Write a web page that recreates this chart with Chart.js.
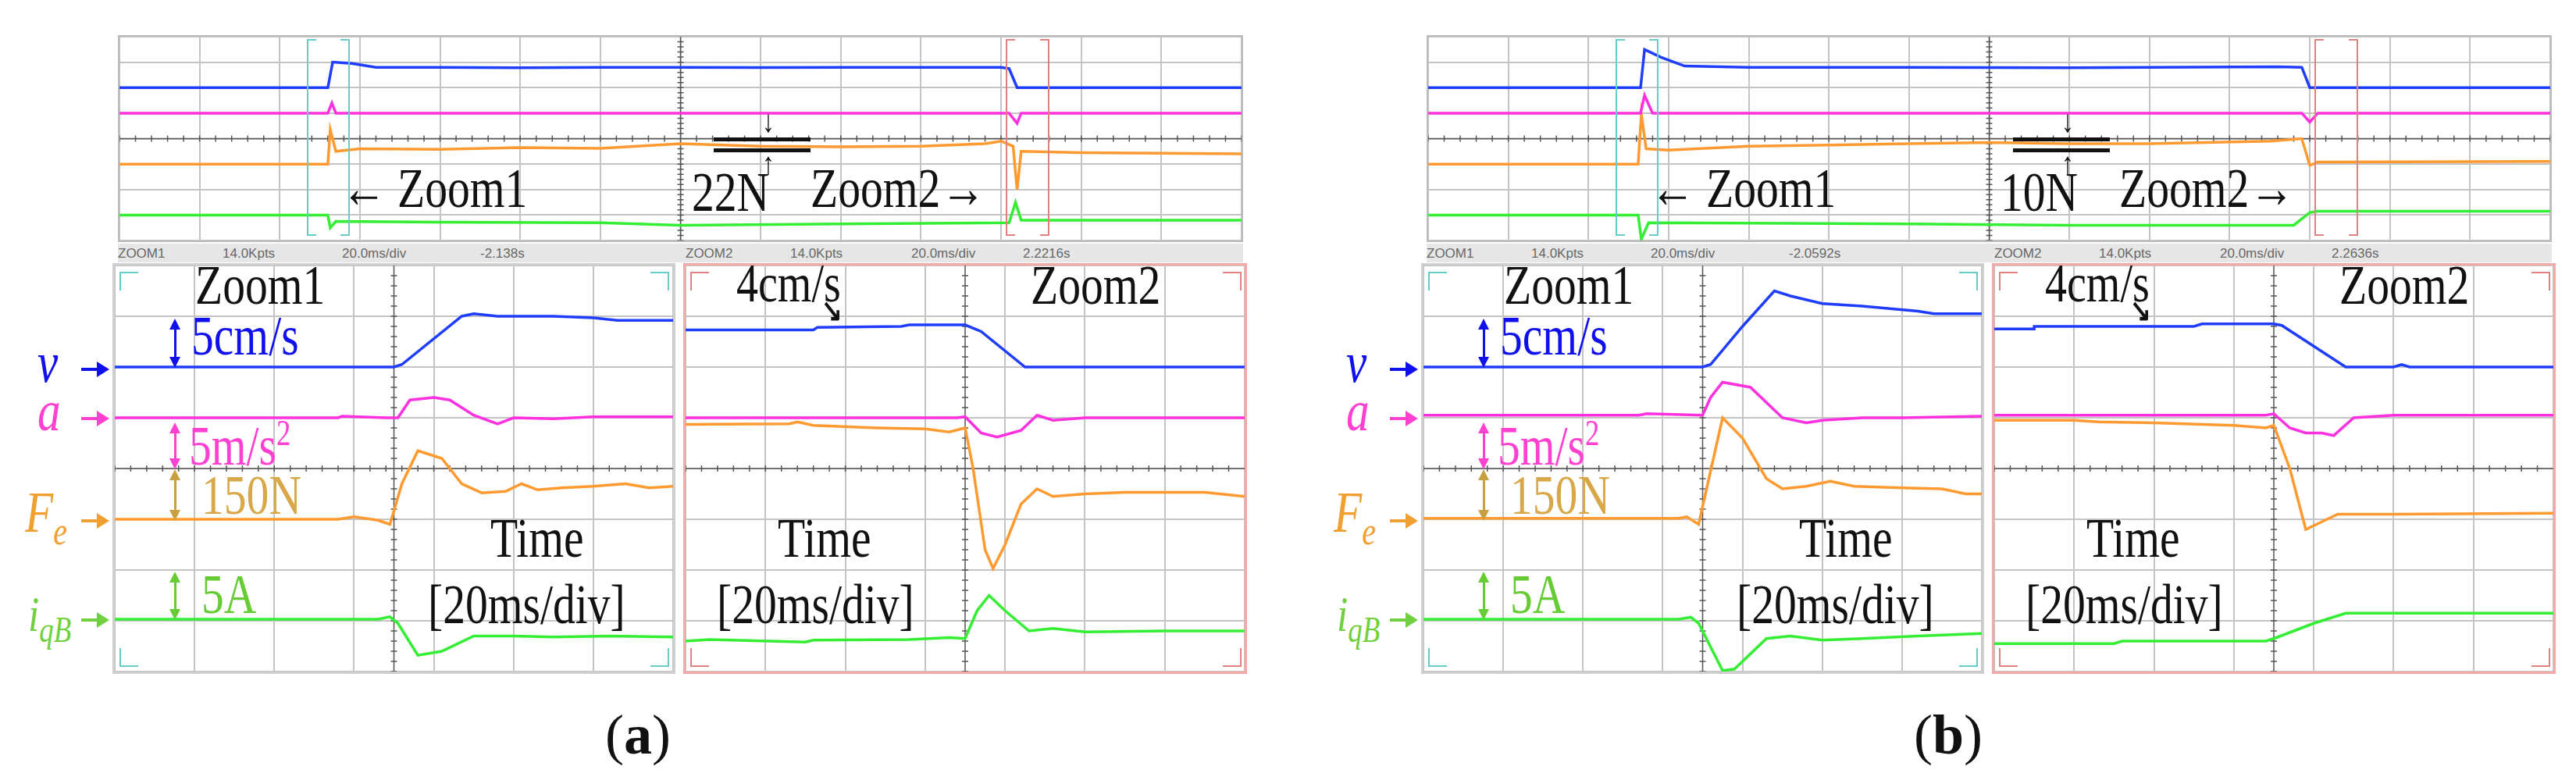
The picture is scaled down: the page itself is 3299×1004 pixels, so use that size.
<!DOCTYPE html>
<html>
<head>
<meta charset="utf-8">
<script src="https://cdn.jsdelivr.net/npm/chart.js@4.4.1/dist/chart.umd.min.js"></script>
<style>
  body { margin: 0; background: #fff; width: 3299px; height: 1004px; position: relative; overflow: hidden; font-family: "Liberation Serif", serif; }
  .box { position: absolute; box-sizing: border-box; background: #fff; }
  .box canvas { position: absolute; left: 0; top: 0; }
  .t { position: absolute; white-space: nowrap; line-height: 1; transform-origin: 0 50%; transform: scaleX(0.8); }
  .strip { position: absolute; background: #e6e6e6; height: 24px; font-family: "Liberation Sans Narrow", "Liberation Sans", sans-serif; font-size: 17px; color: #666; }
  .strip span { position: absolute; top: 3px; }
</style>
</head>
<body>
<script>
// Цвета каналов
const colV = '#1f3dff', colA = '#ff30e0', colF = '#ff9a30', colI = '#33ee33';

// ---------- данные: панель (a) ----------
const aTopV = [[0,2],[2.6,2],[2.66,3.0],[2.9,2.95],[3.2,2.8],[4,2.8],[5,2.78],[6,2.8],[7,2.8],[8,2.79],[9,2.8],[10,2.8],[11.0,2.8],[11.1,2.75],[11.2,2.0],[14,2.0]];
const aTopA = [[0,1],[2.6,1],[2.65,1.4],[2.7,1.0],[11.1,1.0],[11.2,0.6],[11.25,1.0],[14,1]];
const aTopF = [[0,-1],[2.6,-1],[2.63,0.35],[2.7,-0.5],[3,-0.4],[4,-0.42],[5,-0.35],[6,-0.38],[7,-0.2],[8,-0.3],[9,-0.32],[10,-0.3],[10.8,-0.2],[11.0,-0.1],[11.15,-0.3],[11.2,-2.0],[11.25,-0.5],[12,-0.55],[14,-0.6]];
const aTopI = [[0,-3],[2.6,-3],[2.63,-3.5],[2.7,-3.25],[4,-3.28],[6,-3.3],[7,-3.4],[9,-3.35],[11.1,-3.3],[11.18,-2.5],[11.25,-3.2],[14,-3.2]];

const aZ1V = [[0,2],[3.5,2],[3.6,2.05],[4.35,3.0],[4.5,3.05],[4.8,3.0],[5.5,3.0],[6.0,2.97],[6.3,2.92],[7,2.92]];
const aZ1A = [[0,1],[2.8,1],[2.85,1.03],[3.4,1.0],[3.55,1.0],[3.7,1.35],[4.0,1.4],[4.2,1.35],[4.5,1.05],[4.8,0.88],[5.0,1.0],[5.5,0.98],[6,1.02],[7,1.02]];
const aZ1F = [[0,-1.0],[2.8,-1.0],[3.0,-0.95],[3.3,-1.02],[3.45,-1.1],[3.6,-0.3],[3.8,0.35],[4.1,0.2],[4.35,-0.3],[4.6,-0.48],[4.9,-0.45],[5.1,-0.3],[5.3,-0.42],[5.6,-0.38],[6.0,-0.35],[6.4,-0.3],[6.7,-0.38],[7,-0.35]];
const aZ1I = [[0,-2.97],[3.3,-2.97],[3.45,-2.92],[3.55,-3.05],[3.8,-3.68],[4.1,-3.6],[4.5,-3.3],[5,-3.3],[5.5,-3.32],[6.2,-3.3],[7,-3.32]];

const aZ2V = [[0,2.73],[1.6,2.73],[1.65,2.78],[2.7,2.8],[2.8,2.83],[3.5,2.83],[3.7,2.7],[4.25,2.0],[7,2.0]];
const aZ2A = [[0,1],[3.4,1],[3.5,1.02],[3.7,0.7],[3.9,0.62],[4.2,0.75],[4.4,1.05],[4.6,0.95],[5,1.0],[7,1.0]];
const aZ2F = [[0,0.87],[1.3,0.88],[1.4,0.92],[1.6,0.85],[2.4,0.8],[3.0,0.78],[3.3,0.72],[3.5,0.8],[3.6,0.0],[3.75,-1.6],[3.85,-1.97],[4.0,-1.5],[4.2,-0.7],[4.4,-0.4],[4.6,-0.55],[5.0,-0.5],[5.5,-0.47],[6.5,-0.47],[7,-0.55]];
const aZ2I = [[0,-3.4],[0.3,-3.37],[1.5,-3.42],[1.6,-3.38],[2.8,-3.37],[3.3,-3.33],[3.5,-3.35],[3.65,-2.8],[3.8,-2.5],[4.0,-2.8],[4.3,-3.2],[4.6,-3.15],[5,-3.22],[6,-3.2],[7,-3.2]];

// ---------- данные: панель (b) ----------
const bTopV = [[0,2],[2.65,2],[2.7,3.5],[2.9,3.2],[3.2,2.85],[4,2.8],[6,2.8],[8,2.78],[9,2.8],[10.6,2.82],[10.9,2.8],[11.0,2.0],[14,2]];
const bTopA = [[0,1],[2.65,1],[2.7,1.7],[2.8,1.0],[10.9,1.0],[11.0,0.65],[11.1,1.0],[14,1]];
const bTopF = [[0,-1],[2.62,-1],[2.66,0.95],[2.72,-0.4],[3.0,-0.45],[4,-0.3],[5,-0.25],[6,-0.2],[7,-0.15],[8,-0.2],[9,-0.2],[10.5,-0.1],[10.9,0],[11.0,-1.05],[11.1,-0.92],[14,-0.9]];
const bTopI = [[0,-3],[2.62,-3],[2.66,-3.95],[2.75,-3.3],[4,-3.32],[6,-3.35],[8,-3.4],[10.8,-3.4],[11.0,-2.9],[11.1,-2.85],[14,-2.85]];

const bZ1V = [[0,2],[3.5,2],[3.6,2.05],[4.0,2.8],[4.4,3.5],[4.6,3.4],[5.0,3.25],[5.5,3.2],[6.2,3.1],[6.4,3.05],[7,3.05]];
const bZ1A = [[0,1.05],[2.7,1.05],[2.8,1.08],[3.5,1.05],[3.6,1.4],[3.75,1.7],[4.1,1.6],[4.5,1.0],[4.8,0.9],[5.0,0.95],[5.5,1.0],[6,1.0],[7,1.03]];
const bZ1F = [[0,-0.98],[3.2,-0.98],[3.3,-0.95],[3.45,-1.1],[3.55,-0.4],[3.75,1.0],[4.0,0.6],[4.3,-0.2],[4.5,-0.4],[4.8,-0.35],[5.1,-0.25],[5.4,-0.35],[6.0,-0.38],[6.5,-0.4],[6.8,-0.5],[7,-0.5]];
const bZ1I = [[0,-2.97],[3.2,-2.97],[3.35,-2.93],[3.45,-3.05],[3.75,-3.98],[3.9,-3.95],[4.3,-3.35],[4.6,-3.3],[5,-3.38],[5.5,-3.35],[6.2,-3.3],[7,-3.25]];

const bZ2V = [[0,2.75],[0.5,2.75],[0.5,2.8],[2.5,2.8],[2.6,2.85],[3.5,2.85],[3.6,2.82],[4.4,2.0],[5.0,2.0],[5.1,2.05],[5.2,2.0],[7,2.0]];
const bZ2A = [[0,1.05],[3.4,1.05],[3.5,1.08],[3.7,0.8],[3.9,0.7],[4.1,0.7],[4.25,0.65],[4.5,1.0],[5,1.05],[7,1.05]];
const bZ2F = [[0,0.95],[1.0,0.95],[1.3,0.92],[2.0,0.9],[3.0,0.85],[3.4,0.8],[3.5,0.85],[3.7,0.0],[3.9,-1.2],[4.1,-1.05],[4.3,-0.9],[5,-0.9],[7,-0.88]];
const bZ2I = [[0,-3.45],[1.5,-3.45],[1.6,-3.4],[3.4,-3.4],[3.5,-3.35],[4.0,-3.05],[4.4,-2.85],[7,-2.85]];

// подписи строки состояния
const aStrip = ['ZOOM1', '14.0Kpts', '20.0ms/div', '-2.138s', 'ZOOM2', '14.0Kpts', '20.0ms/div', '2.2216s'];
const bStrip = ['ZOOM1', '14.0Kpts', '20.0ms/div', '-2.0592s', 'ZOOM2', '14.0Kpts', '20.0ms/div', '2.2636s'];

// Центральный крест осциллографа с рисками
const crossPlugin = {
    id: 'cross',
    beforeDatasetsDraw(chart) {
        const c = chart.ctx, x = chart.scales.x, y = chart.scales.y;
        const cx = x.getPixelForValue((x.max + x.min) / 2), cy = y.getPixelForValue(0);
        c.save();
        c.strokeStyle = '#555';
        c.lineWidth = 1.5;
        c.beginPath();
        c.moveTo(x.left, cy); c.lineTo(x.right, cy);
        c.moveTo(cx, y.top); c.lineTo(cx, y.bottom);
        for (let v = x.min; v <= x.max; v += 0.2) {
            const px = x.getPixelForValue(v);
            c.moveTo(px, cy - 4); c.lineTo(px, cy + 4);
        }
        for (let v = y.min; v <= y.max; v += 0.2) {
            const py = y.getPixelForValue(v);
            c.moveTo(cx - 4, py); c.lineTo(cx + 4, py);
        }
        c.stroke();
        c.restore();
    }
};

function toXY(arr) { return arr.map(p => ({ x: p[0], y: p[1] })); }

function makeBox(left, top, w, h, border) {
    const d = document.createElement('div');
    d.className = 'box';
    d.style.cssText = `left:${left}px;top:${top}px;width:${w}px;height:${h}px;border:${border};`;
    document.body.appendChild(d);
    return d;
}

function makeScope(box, w, h, xmax, series) {
    const cv = document.createElement('canvas');
    cv.width = w; cv.height = h;
    cv.style.width = w + 'px'; cv.style.height = h + 'px';
    box.appendChild(cv);
    const cols = [colV, colA, colF, colI];
    new Chart(cv.getContext('2d'), {
        type: 'line',
        data: {
            datasets: series.map((s, i) => ({
                data: toXY(s), borderColor: cols[i], borderWidth: 3.5,
                pointRadius: 0, tension: 0, fill: false
            }))
        },
        options: {
            responsive: false, animation: false, devicePixelRatio: 1,
            layout: { padding: 0 },
            plugins: { legend: { display: false }, tooltip: { enabled: false } },
            scales: {
                x: { type: 'linear', min: 0, max: xmax, border: { display: false },
                     ticks: { display: false, stepSize: 1 },
                     grid: { color: '#c4c4c4', lineWidth: 2, drawTicks: false, borderDash: [2, 20] } },
                y: { min: -4, max: 4, border: { display: false },
                     ticks: { display: false, stepSize: 1 },
                     grid: { color: '#c4c4c4', lineWidth: 2, drawTicks: false, borderDash: [2, 20] } }
            }
        },
        plugins: [crossPlugin]
    });
}

// текст: центр по вертикали на cy
function txt(html, left, cy, size, color, extra) {
    const d = document.createElement('div');
    d.className = 't';
    d.innerHTML = html;
    d.style.cssText = `left:${left}px;top:${cy - size * 0.55}px;font-size:${size}px;color:${color};${extra || ''}`;
    document.body.appendChild(d);
}

function el(css) {
    const d = document.createElement('div');
    d.style.cssText = 'position:absolute;' + css;
    document.body.appendChild(d);
}

function bracket(left, top, w, h, color, sideX) {
    el(`left:${left}px;top:${top}px;width:${w}px;height:${h}px;box-sizing:border-box;` +
       `border-${sideX}:2px solid ${color};border-top:2px solid ${color};border-bottom:2px solid ${color};`);
}

function corner(left, top, color, sideX, sideY) {
    el(`left:${left}px;top:${top}px;width:22px;height:22px;` +
       `border-${sideX}:2px solid ${color};border-${sideY}:2px solid ${color};`);
}

// горизонтальная стрелка
function arrowR(x, cy, len, color) {
    el(`left:${x}px;top:${cy - 2}px;width:${len - 14}px;height:4px;background:${color};`);
    el(`left:${x + len - 16}px;top:${cy - 10}px;width:0;height:0;border-top:10px solid transparent;border-bottom:10px solid transparent;border-left:16px solid ${color};`);
}

// двойная вертикальная стрелка
function arrowUD(cx, y1, y2, color) {
    el(`left:${cx - 1.5}px;top:${y1 + 10}px;width:3px;height:${y2 - y1 - 20}px;background:${color};`);
    el(`left:${cx - 7}px;top:${y1}px;width:0;height:0;border-left:7px solid transparent;border-right:7px solid transparent;border-bottom:14px solid ${color};`);
    el(`left:${cx - 7}px;top:${y2 - 14}px;width:0;height:0;border-left:7px solid transparent;border-right:7px solid transparent;border-top:14px solid ${color};`);
}

function panel(ox, top, z1, z2, strip, forceLbl, barX, tag) {
    // обзорное окно
    const tb = makeBox(ox + 151, 45, 1441, 265, '2px solid #bbb');
    makeScope(tb, 1437, 261, 14, top);
    // строка состояния
    const s = document.createElement('div');
    s.className = 'strip';
    s.style.left = (ox + 151) + 'px'; s.style.top = '312px'; s.style.width = '1441px';
    const sx = [0, 134, 287, 464, 727, 861, 1016, 1159];
    strip.forEach((t, i) => { const sp = document.createElement('span'); sp.textContent = t; sp.style.left = sx[i] + 'px'; s.appendChild(sp); });
    document.body.appendChild(s);
    // окна Zoom1 / Zoom2
    const b1 = makeBox(ox + 144, 337, 721, 526, '3px solid #cfcfcf');
    makeScope(b1, 715, 520, 7, z1);
    const b2 = makeBox(ox + 875, 337, 722, 526, '3px solid #f4a8a8');
    makeScope(b2, 716, 520, 7, z2);
    // уголки
    corner(ox + 153, 348, '#66cccc', 'left', 'top');
    corner(ox + 833, 348, '#66cccc', 'right', 'top');
    corner(ox + 153, 830, '#66cccc', 'left', 'bottom');
    corner(ox + 833, 830, '#66cccc', 'right', 'bottom');
    corner(ox + 884, 348, '#e08080', 'left', 'top');
    corner(ox + 1566, 348, '#e08080', 'right', 'top');
    corner(ox + 884, 830, '#e08080', 'left', 'bottom');
    corner(ox + 1566, 830, '#e08080', 'right', 'bottom');
    bracket(ox + 393, 50, 12, 252, '#66cccc', 'left');
    bracket(ox + 436, 50, 12, 252, '#66cccc', 'right');
    bracket(ox + 1288, 50, 12, 252, '#e08080', 'left');
    bracket(ox + 1332, 50, 12, 252, '#e08080', 'right');

    // подписи каналов слева
    txt('<i>v</i>', ox + 48, 468, 74, '#1010ee');
    arrowR(ox + 104, 473, 36, '#1010ee');
    txt('<i>a</i>', ox + 48, 530, 74, '#ff40d0');
    arrowR(ox + 104, 536, 36, '#ff40d0');
    txt('<i>F<sub style="font-size:50px">e</sub></i>', ox + 32, 660, 74, '#f0a030');
    arrowR(ox + 104, 667, 36, '#f0a030');
    txt('<i>i<sub style="font-size:46px">qB</sub></i>', ox + 36, 790, 64, '#70d040');
    arrowR(ox + 104, 794, 36, '#70d040');

    // шкалы
    arrowUD(ox + 224, 408, 471, '#1010ee');
    txt('5cm/s', ox + 245, 434, 72, '#1010ee');
    arrowUD(ox + 224, 541, 601, '#ff40d0');
    txt('5m/s<sup style="font-size:46px">2</sup>', ox + 242, 572, 72, '#ff40d0');
    arrowUD(ox + 224, 601, 667, '#c8a040');
    txt('150N', ox + 258, 638, 72, '#d8a848');
    arrowUD(ox + 224, 732, 794, '#66cc33');
    txt('5A', ox + 258, 765, 72, '#66cc33');

    // текст в окнах
    txt('Zoom1', ox + 250, 369, 72, '#111');
    txt('Time', ox + 628, 693, 72, '#111');
    txt('[20ms/div]', ox + 548, 778, 72, '#111');
    txt('4cm/s', ox + 943, 366, 70, '#111');
    txt('&#8600;', ox + 1052, 400, 40, '#111', 'font-weight:bold');
    txt('Zoom2', ox + 1320, 369, 72, '#111');
    txt('Time', ox + 996, 693, 72, '#111');
    txt('[20ms/div]', ox + 918, 778, 72, '#111');

    // обзор: подписи и метка силы
    txt('&#8592;&nbsp;Zoom1', ox + 437, 245, 72, '#111');
    txt(forceLbl, ox + 886, 250, 72, '#111');
    txt('Zoom2&#8594;', ox + 1038, 245, 72, '#111');
    el(`left:${ox + barX}px;top:176px;width:124px;height:5px;background:#111;`);
    el(`left:${ox + barX}px;top:190px;width:124px;height:5px;background:#111;`);
    txt('&#8595;', ox + barX + 62, 158, 40, '#111');
    txt('&#8593;', ox + barX + 62, 212, 40, '#111');

    txt(tag, ox + 775, 945, 72, '#111', 'transform:none');
}

panel(0, [aTopV, aTopA, aTopF, aTopI], [aZ1V, aZ1A, aZ1F, aZ1I], [aZ2V, aZ2A, aZ2F, aZ2I], aStrip, '22N', 914, '(<b>a</b>)');
panel(1676, [bTopV, bTopA, bTopF, bTopI], [bZ1V, bZ1A, bZ1F, bZ1I], [bZ2V, bZ2A, bZ2F, bZ2I], bStrip, '10N', 902, '(<b>b</b>)');
</script>
</body>
</html>
